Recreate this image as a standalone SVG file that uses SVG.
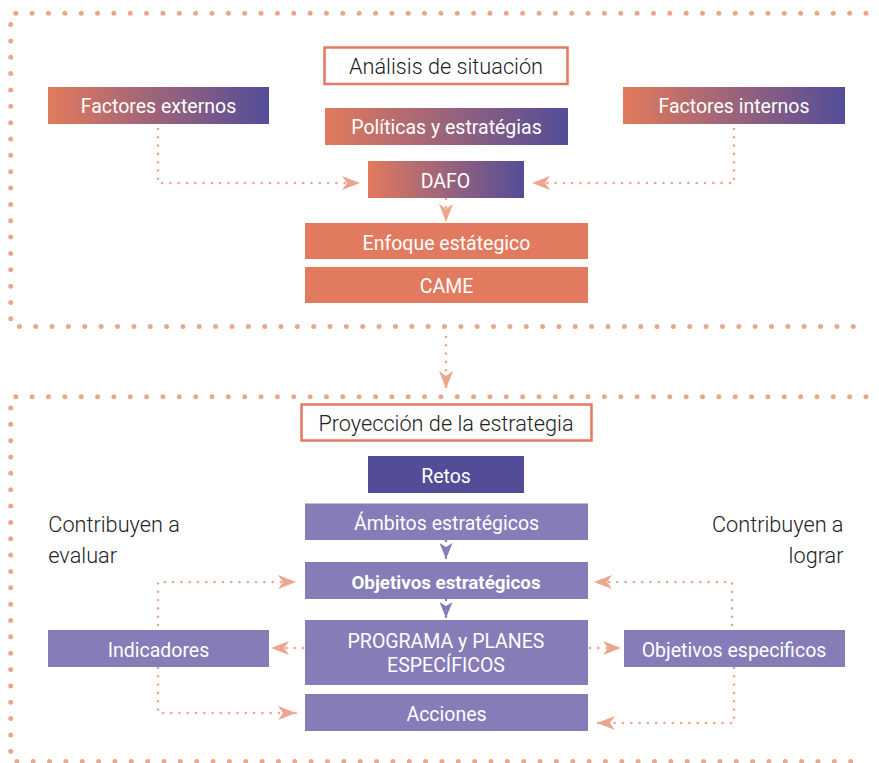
<svg xmlns="http://www.w3.org/2000/svg" width="879" height="763" viewBox="0 0 879 763">
  <defs>
    <linearGradient id="grad" x1="0" y1="0" x2="1" y2="0">
      <stop offset="0" stop-color="#E27A5D"/>
      <stop offset="1" stop-color="#534D99"/>
    </linearGradient>
    <marker id="arr" viewBox="0 0 18 14" refX="18" refY="7" markerWidth="18" markerHeight="14" markerUnits="userSpaceOnUse" orient="auto">
      <path d="M0,0 L18,7 L0,14 L5,7 Z" fill="#EDA68E"/>
    </marker>
    <marker id="arrp" viewBox="0 0 16 13" refX="16" refY="6.5" markerWidth="16" markerHeight="13" markerUnits="userSpaceOnUse" orient="auto">
      <path d="M0,0 L16,6.5 L0,13 L4,6.5 Z" fill="#857CB8"/>
    </marker>
  </defs>
  <style>
    .frame { fill: none; stroke: #EDA68E; stroke-width: 5; stroke-linecap: round; stroke-dasharray: 0 16.35; }
    .conn { fill: none; stroke: #EDA68E; stroke-width: 2.6; stroke-linecap: round; stroke-dasharray: 0 8.3; marker-end: url(#arr); }
    .connp { fill: none; stroke: #857CB8; stroke-width: 2.6; stroke-linecap: round; stroke-dasharray: 0 8.3; marker-end: url(#arrp); }
    .grad { fill: url(#grad); }
    .orange { fill: #E27A5F; }
    .dark { fill: #534D99; }
    .light { fill: #857CB8; }
    .title { fill: #fff; stroke: #E27A5F; stroke-width: 2.5; }
    .lbl { font-family: Roboto, "Noto Sans", sans-serif; font-size: 19.5px; fill: #fff; text-anchor: middle; }
    .bold { font-weight: bold; font-size: 18.8px; }
    .ttl { font-family: Roboto, "Noto Sans", sans-serif; font-weight: 300; font-size: 21.7px; fill: #222; text-anchor: middle; }
    .note { font-family: Roboto, "Noto Sans", sans-serif; font-weight: 300; font-size: 21.7px; fill: #222; }
  </style>

  <!-- dotted frames -->
  <g id="frames">
    <path class="frame" d="M866,13.3 H10.7 V326.5 H866"/>
    <path class="frame" d="M866,396.7 H10.7 V761.5 H866"/>
  </g>

  <!-- connectors -->
  <g id="connectors">
    <path class="conn" d="M158,129 V183 H360"/>
    <path class="conn" d="M734,129 V183 H532"/>
    <path class="conn" d="M446,199 V222"/>
    <path class="conn" d="M446,337 V389"/>
    <path class="connp" d="M446,541 V559"/>
    <path class="connp" d="M446,600 V618"/>
    <path class="conn" d="M158,625 V582 H296"/>
    <path class="conn" d="M158,668 V713 H296"/>
    <path class="conn" d="M303,648 H271"/>
    <path class="conn" d="M590,648 H621"/>
    <path class="conn" d="M732,625 V582 H594"/>
    <path class="conn" d="M734,668 V723 H597"/>
  </g>

  <g id="analisis">
    <rect class="title" x="324.5" y="47.5" width="243" height="36.5"/>
    <text class="ttl" x="446" y="74">Análisis de situación</text>
  </g>
  <g id="politicas">
    <rect class="grad" x="325" y="108" width="243" height="37"/>
    <text class="lbl" x="446.5" y="134">Políticas y estratégias</text>
  </g>
  <g id="factores-externos">
    <rect class="grad" x="48" y="87" width="221" height="37"/>
    <text class="lbl" x="158.5" y="113.3">Factores externos</text>
  </g>
  <g id="factores-internos">
    <rect class="grad" x="623" y="87" width="222" height="37"/>
    <text class="lbl" x="734" y="113.3">Factores internos</text>
  </g>
  <g id="dafo">
    <rect class="grad" x="368" y="161" width="156" height="37"/>
    <text class="lbl" x="445.5" y="187.5">DAFO</text>
  </g>
  <g id="enfoque">
    <rect class="orange" x="305" y="223" width="283" height="36"/>
    <text class="lbl" x="446.5" y="249.5">Enfoque estátegico</text>
  </g>
  <g id="came">
    <rect class="orange" x="305" y="267" width="283" height="36"/>
    <text class="lbl" x="446.5" y="293">CAME</text>
  </g>

  <g id="proyeccion">
    <rect class="title" x="301.5" y="404.5" width="290" height="36"/>
    <text class="ttl" x="446" y="430.7">Proyección de la estrategia</text>
  </g>
  <g id="retos">
    <rect class="dark" x="368" y="456" width="156" height="37"/>
    <text class="lbl" x="446" y="482.5">Retos</text>
  </g>
  <g id="ambitos">
    <rect class="light" x="305" y="503.5" width="283" height="36.5"/>
    <text class="lbl" x="446.5" y="530">Ámbitos estratégicos</text>
  </g>
  <g id="objetivos-estrategicos">
    <rect class="light" x="305" y="562" width="283" height="37"/>
    <text class="lbl bold" x="446" y="588.5">Objetivos estratégicos</text>
  </g>
  <g id="programa">
    <rect class="light" x="305" y="620" width="283" height="65"/>
    <text class="lbl" x="446" y="648.3">PROGRAMA y PLANES</text>
    <text class="lbl" x="446" y="671.7">ESPECÍFICOS</text>
  </g>
  <g id="acciones">
    <rect class="light" x="305" y="694" width="283" height="37"/>
    <text class="lbl" x="446.5" y="720.5">Acciones</text>
  </g>
  <g id="indicadores">
    <rect class="light" x="48" y="630" width="221" height="37"/>
    <text class="lbl" x="158.5" y="656.5">Indicadores</text>
  </g>
  <g id="objetivos-especificos">
    <rect class="light" x="624" y="630" width="221" height="37"/>
    <text class="lbl" x="734" y="656.5">Objetivos especificos</text>
  </g>

  <g id="notes">
    <text class="note" x="48.3" y="531.7">Contribuyen a</text>
    <text class="note" x="48.3" y="563">evaluar</text>
    <text class="note" x="843.5" y="531.7" text-anchor="end">Contribuyen a</text>
    <text class="note" x="843.5" y="563" text-anchor="end">lograr</text>
  </g>
</svg>
